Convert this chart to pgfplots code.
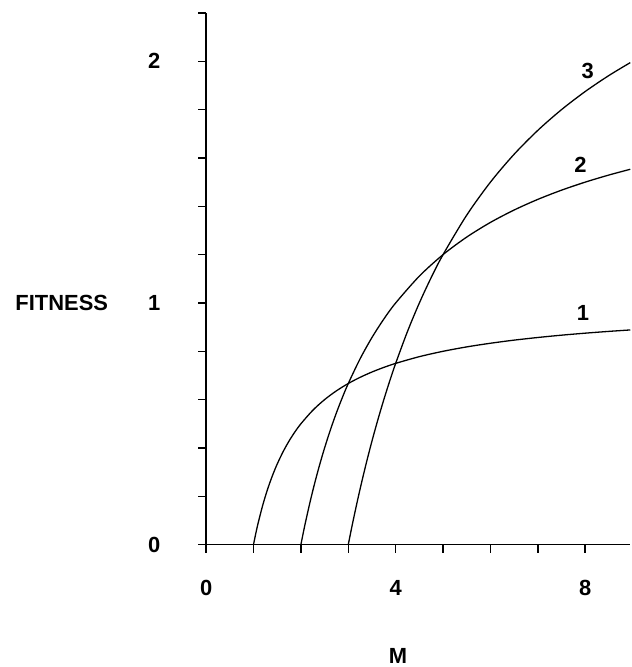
\documentclass[border=0pt]{standalone}
\usepackage{pgfplots}
\pgfplotsset{compat=1.18}
\usepackage{fontspec}
\setmainfont{Liberation Sans}
\begin{document}
\begin{tikzpicture}
\begin{axis}[
  scale only axis, width=426pt, height=534pt,
  xmin=0, xmax=8.95, ymin=0, ymax=2.2,
  axis x line*=bottom, axis y line*=left,
  axis line style={-, line width=1.5pt},
  xtick={0,1,2,3,4,5,6,7,8},
  xticklabels={0,,,,4,,,,8},
  ytick={0,0.2,0.4,0.6,0.8,1,1.2,1.4,1.6,1.8,2,2.2},
  yticklabels={0,,,,,1,,,,,2,},
  tick align=outside, major tick length=8pt,
  tick style={line width=1.5pt, black},
  x tick label style={font=\fontsize{22}{24}\selectfont\bfseries, anchor=center, yshift=-36pt},
  y tick label style={font=\fontsize{22}{24}\selectfont\bfseries, anchor=center, xshift=-44pt},
  clip=false,
  curve/.style={black, line width=1.3pt, smooth, no markers},
]
\addplot[curve] coordinates {(1,0) (1.05,0.0476) (1.1,0.0909) (1.2,0.1667) (1.3,0.2308) (1.4,0.2857) (1.5,0.3333) (1.625,0.3846) (1.75,0.4286) (1.875,0.4667) (2,0.5) (2.25,0.5556) (2.5,0.6) (2.75,0.6364) (3,0.6667) (3.25,0.6923) (3.5,0.7143) (3.75,0.7333) (4,0.75) (4.5,0.7778) (5,0.8) (5.5,0.8182) (6,0.8333) (6.5,0.8462) (7,0.8571) (7.5,0.8667) (8,0.875) (8.5,0.8824) (8.95,0.8883)};
\addplot[curve] coordinates {(2,0) (2.05,0.0488) (2.1,0.0952) (2.2,0.1818) (2.3,0.2609) (2.4,0.3333) (2.5,0.4) (2.625,0.4762) (2.75,0.5455) (2.875,0.6087) (3,0.6667) (3.25,0.7692) (3.5,0.8571) (3.75,0.9333) (4,1.0) (4.5,1.1111) (5,1.2) (5.5,1.2727) (6,1.3333) (6.5,1.3846) (7,1.4286) (7.5,1.4667) (8,1.5) (8.5,1.5294) (8.95,1.5531)};
\addplot[curve] coordinates {(3,0) (3.05,0.0492) (3.1,0.0968) (3.2,0.1875) (3.3,0.2727) (3.4,0.3529) (3.5,0.4286) (3.625,0.5172) (3.75,0.6) (3.875,0.6774) (4,0.75) (4.25,0.8824) (4.5,1.0) (4.75,1.1053) (5,1.2) (5.5,1.3636) (6,1.5) (6.5,1.6154) (7,1.7143) (7.5,1.8) (8,1.875) (8.5,1.9412) (8.95,1.9944)};
\node[font=\fontsize{22}{24}\selectfont\bfseries] at (axis cs:7.95,0.96) {1};
\node[font=\fontsize{22}{24}\selectfont\bfseries] at (axis cs:7.9,1.57) {2};
\node[font=\fontsize{22}{24}\selectfont\bfseries] at (axis cs:8.05,1.96) {3};
\node[font=\fontsize{22}{24}\selectfont\bfseries] at (axis cs:0,1) [xshift=-145pt] {FITNESS};
\node[font=\fontsize{22}{24}\selectfont\bfseries] at (axis cs:4.05,0) [yshift=-112pt] {M};
\end{axis}
\path (current axis.south west) ++(-207pt,-120pt) coordinate (bl);
\path (current axis.north east) ++(0pt,13pt) coordinate (tr);
\useasboundingbox (bl) rectangle (tr);
\end{tikzpicture}
\end{document}
